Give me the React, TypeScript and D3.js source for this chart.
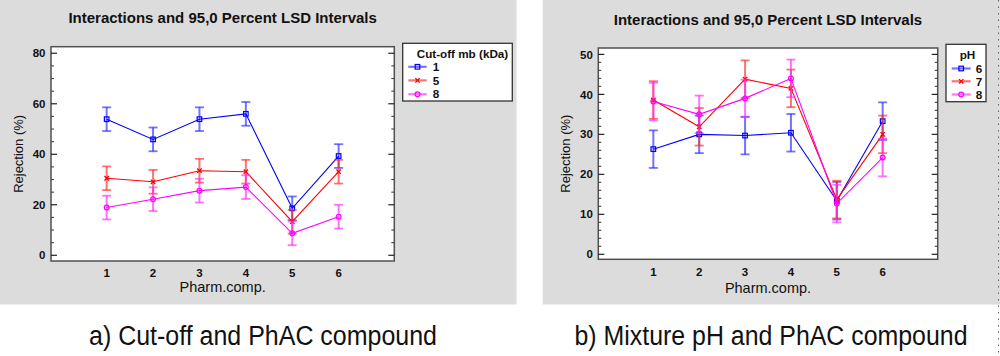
import React from "react";
import * as d3 from "d3";

// ---------- data ----------
const pharmComp = [1, 2, 3, 4, 5, 6];

const cutoffTitle = "Cut-off mb (kDa)";
const cutoffLabels = ["1", "5", "8"];
const cutoff1 = [53.9, 45.9, 53.9, 56.0, 18.6, 39.3];
const cutoff5 = [30.5, 29.1, 33.5, 33.1, 13.3, 33.1];
const cutoff8 = [18.9, 22.2, 25.6, 27.0, 8.7, 15.3];
const lsdHalfA = 4.7;
const yTicksA = [0, 20, 40, 60, 80];

const phTitle = "pH";
const phLabels = ["6", "7", "8"];
const ph6 = [26.3, 30.0, 29.7, 30.4, 13.4, 33.3];
const ph7 = [38.6, 31.9, 43.8, 41.5, 13.7, 30.0];
const ph8 = [38.2, 35.0, 39.0, 44.0, 12.7, 24.2];
const lsdHalfB = 4.7;
const yTicksB = [0, 10, 20, 30, 40, 50];

const chartTitle = "Interactions and 95,0 Percent LSD Intervals";
const xTitle = "Pharm.comp.";
const yTitle = "Rejection (%)";
const captionA = "a) Cut-off and PhAC compound";
const captionB = "b) Mixture pH and PhAC compound";

// ---------- styles ----------
const colors = ["#0000ff", "#ff0000", "#ff00ff"];
const barColors = ["rgba(40,40,255,0.65)", "rgba(255,40,40,0.65)", "rgba(255,40,255,0.65)"];
const markers = ["square", "cross", "circle"];
const FONT = "'Liberation Sans', Arial, Helvetica, sans-serif";
const CAPFONT = "'Liberation Sans Narrow', 'Liberation Sans', Arial, sans-serif";

function Marker({ type, x, y, color }: { type: string; x: number; y: number; color: string }) {
  if (type === "square")
    return <rect x={x - 2.3} y={y - 2.3} width={4.6} height={4.6} fill="none" stroke={color} strokeWidth={1.2} />;
  if (type === "cross")
    return (
      <path d={`M${x - 2.2},${y - 2.2}L${x + 2.2},${y + 2.2}M${x - 2.2},${y + 2.2}L${x + 2.2},${y - 2.2}`} stroke={color} strokeWidth={1.3} />
    );
  return <circle cx={x} cy={y} r={2.4} fill="none" stroke={color} strokeWidth={1.2} />;
}

type PanelProps = {
  bg: [number, number, number, number];
  frame: [number, number, number, number]; // left, top, right, bottom
  yDomain: [number, number];
  yTicks: number[];
  minorStep: number;
  series: number[][];
  half: number;
  legendBox: [number, number, number, number];
  legendTitle: string;
  legendTitleX: number;
  legendTitleAnchor: string;
  legendTitleY: number;
  legendLabels: string[];
  legendRows: number[];
  legendLine: [number, number];
  legendTextX: number;
  titleY: number;
  xLabelY: number;
  xTitleY: number;
  yTitleX: number;
  caption: string;
  captionX: number;
  captionW: number;
};

function Panel(p: PanelProps) {
  const [fl, ft, fr, fb] = p.frame;
  const x = d3.scaleLinear().domain([-0.2, 7.2]).range([fl, fr]);
  const y = d3.scaleLinear().domain(p.yDomain).range([fb, ft]);
  const yMin = p.yTicks[0];
  const yMax = p.yTicks[p.yTicks.length - 1];
  const minor = d3.range(yMin, yMax + 0.001, p.minorStep).filter((v) => !p.yTicks.includes(v));
  const cx = (fl + fr) / 2;
  const line = d3
    .line<number>()
    .x((_, i) => x(pharmComp[i]))
    .y((v) => y(v));
  return (
    <g>
      <rect x={p.bg[0]} y={p.bg[1]} width={p.bg[2]} height={p.bg[3]} fill="#dcdcdc" />
      <text x={cx} y={p.titleY} textAnchor="middle" fontFamily={FONT} fontWeight="bold" fontSize={15} fill="#111">
        {chartTitle}
      </text>
      <rect x={fl} y={ft} width={fr - fl} height={fb - ft} fill="#fff" stroke="#505050" strokeWidth={1.5} />
      {p.yTicks.map((v) => (
        <g key={"t" + v}>
          <line x1={fl} x2={fl + 6} y1={y(v)} y2={y(v)} stroke="#222" strokeWidth={1.2} />
          <line x1={fr - 6} x2={fr} y1={y(v)} y2={y(v)} stroke="#222" strokeWidth={1.2} />
          <text x={fl - 5.5} y={y(v)} dy="0.36em" textAnchor="end" fontFamily={FONT} fontWeight="bold" fontSize={11.5} fill="#111">
            {v}
          </text>
        </g>
      ))}
      {minor.map((v) => (
        <g key={"m" + v}>
          <line x1={fl} x2={fl + 3} y1={y(v)} y2={y(v)} stroke="#444" strokeWidth={1.1} />
          <line x1={fr - 3} x2={fr} y1={y(v)} y2={y(v)} stroke="#444" strokeWidth={1.1} />
        </g>
      ))}
      {pharmComp.map((c) => (
        <text key={"x" + c} x={x(c)} y={p.xLabelY} textAnchor="middle" fontFamily={FONT} fontWeight="bold" fontSize={11.5} fill="#111">
          {c}
        </text>
      ))}
      <text x={cx} y={p.xTitleY} textAnchor="middle" fontFamily={FONT} fontSize={14.5} fill="#111">
        {xTitle}
      </text>
      <text
        transform={`translate(${p.yTitleX},${(ft + fb) / 2}) rotate(-90)`}
        textAnchor="middle"
        fontFamily={FONT}
        fontSize={13}
        fill="#111"
      >
        {yTitle}
      </text>
      {p.series.map((s, si) => (
        <g key={"s" + si}>
          {s.map((v, i) => {
            const px = x(pharmComp[i]);
            const t = y(v + p.half);
            const b = y(v - p.half);
            return (
              <g key={i}>
                <line x1={px} x2={px} y1={t} y2={b} stroke={barColors[si]} strokeWidth={2} />
                <line x1={px - 4.5} x2={px + 4.5} y1={t} y2={t} stroke={barColors[si]} strokeWidth={1.8} />
                <line x1={px - 4.5} x2={px + 4.5} y1={b} y2={b} stroke={barColors[si]} strokeWidth={1.8} />
              </g>
            );
          })}
          <path d={line(s) || ""} fill="none" stroke={colors[si]} strokeWidth={1.1} />
          {s.map((v, i) => (
            <Marker key={"k" + i} type={markers[si]} x={x(pharmComp[i])} y={y(v)} color={colors[si]} />
          ))}
        </g>
      ))}
      <rect
        x={p.legendBox[0]}
        y={p.legendBox[1]}
        width={p.legendBox[2] - p.legendBox[0]}
        height={p.legendBox[3] - p.legendBox[1]}
        fill="#fff"
        stroke="#333"
        strokeWidth={1.3}
      />
      <text
        x={p.legendTitleX}
        y={p.legendTitleY}
        textAnchor={p.legendTitleAnchor as any}
        fontFamily={FONT}
        fontWeight="bold"
        fontSize={11.7}
        fill="#111"
      >
        {p.legendTitle}
      </text>
      {p.legendLabels.map((lab, i) => {
        const ry = p.legendRows[i];
        const mx = (p.legendLine[0] + p.legendLine[1]) / 2;
        return (
          <g key={"l" + i}>
            <line x1={p.legendLine[0]} x2={p.legendLine[1]} y1={ry} y2={ry} stroke={barColors[i]} strokeWidth={2.2} />
            <Marker type={markers[i]} x={mx} y={ry} color={colors[i]} />
            <text x={p.legendTextX} y={ry} dy="0.36em" fontFamily={FONT} fontWeight="bold" fontSize={11.7} fill="#111">
              {lab}
            </text>
          </g>
        );
      })}
      <text
        x={p.captionX}
        y={345}
        textAnchor="middle"
        fontFamily={CAPFONT}
        fontSize={27}
        fill="#111"
        textLength={p.captionW}
        lengthAdjust="spacingAndGlyphs"
      >
        {p.caption}
      </text>
    </g>
  );
}

export default function App() {
  return (
    <svg width={1000} height={356} style={{ position: "absolute", left: 0, top: 0, background: "#fff" }}>
      <Panel
        bg={[0, 0, 516.5, 304.5]}
        frame={[51, 46.7, 394.3, 261]}
        yDomain={[-2.26, 82.6]}
        yTicks={yTicksA}
        minorStep={5}
        series={[cutoff1, cutoff5, cutoff8]}
        half={lsdHalfA}
        legendBox={[402.7, 43.3, 512.3, 101]}
        legendTitle={cutoffTitle}
        legendTitleX={416.7}
        legendTitleAnchor="start"
        legendTitleY={58.3}
        legendLabels={cutoffLabels}
        legendRows={[66.8, 80.4, 94.2]}
        legendLine={[408.3, 426.7]}
        legendTextX={432.7}
        titleY={23.3}
        xLabelY={277.3}
        xTitleY={292}
        yTitleX={23}
        caption={captionA}
        captionX={263}
        captionW={348}
      />
      <Panel
        bg={[542.7, 0, 457.3, 304.5]}
        frame={[598.3, 48, 937.7, 259.3]}
        yDomain={[-1.25, 51.6]}
        yTicks={yTicksB}
        minorStep={2}
        series={[ph6, ph7, ph8]}
        half={lsdHalfB}
        legendBox={[946, 44.3, 986, 101.7]}
        legendTitle={phTitle}
        legendTitleX={967.5}
        legendTitleAnchor="middle"
        legendTitleY={59}
        legendLabels={phLabels}
        legendRows={[68.5, 81.3, 94.5]}
        legendLine={[951.7, 970.7]}
        legendTextX={975.7}
        titleY={25}
        xLabelY={275.7}
        xTitleY={292.7}
        yTitleX={570}
        caption={captionB}
        captionX={771}
        captionW={393}
      />
      <line x1={998.5} x2={998.5} y1={0} y2={356} stroke="#666" strokeWidth={1} strokeDasharray="1.5,5" />
    </svg>
  );
}
